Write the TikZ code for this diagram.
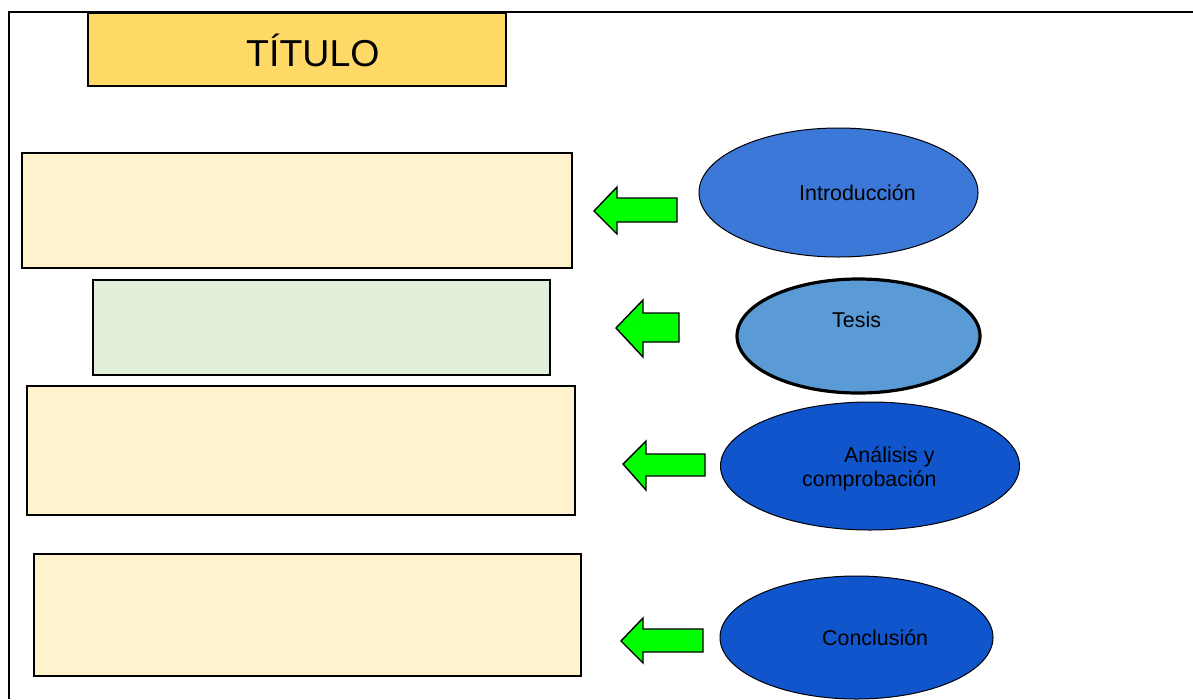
\documentclass[tikz,border=0pt]{standalone}
\usepackage{fontspec}
\setmainfont{Liberation Sans}
\usetikzlibrary{shapes.geometric}
\definecolor{titlefill}{HTML}{FFD966}
\definecolor{cream}{HTML}{FFF2CC}
\definecolor{palegreen}{HTML}{E2EFDA}
\definecolor{blueA}{HTML}{3C78D8}
\definecolor{blueB}{HTML}{5B9BD5}
\definecolor{blueC}{HTML}{1155CC}
\definecolor{arrowgreen}{HTML}{00FF00}
\tikzset{
  box/.style={draw=black, line width=1.6pt, inner sep=0pt, rectangle},
  oval/.style={draw=black, ellipse, inner sep=0pt, line width=1pt},
  lbl/.style={anchor=base west, inner sep=0pt, font=\fontsize{21.4}{25}\selectfont},
  garrow/.style={draw=black, fill=arrowgreen, line width=1.4pt, line join=miter},
}
\begin{document}
\begin{tikzpicture}[x=1pt,y=-1pt]
\useasboundingbox (0,0) rectangle (1193,699);
% frame
\draw[line width=2pt] (1193,12) -- (9,12) -- (9,699);
% title
\node[box, fill=titlefill, line width=1.3pt, minimum width=418pt, minimum height=73pt] (title) at (297,49.5) {};
\node[anchor=base west, inner sep=0pt, font=\fontsize{37.5}{42}\selectfont] (titletext) at (246,66) {TÍTULO};
% rectangles
\node[box, fill=cream, minimum width=550pt, minimum height=115pt] (r1) at (297,210.5) {};
\node[box, fill=palegreen, minimum width=457pt, minimum height=95pt] (r2) at (321.5,327.5) {};
\node[box, fill=cream, minimum width=548pt, minimum height=129pt] (r3) at (301,450.5) {};
\node[box, fill=cream, minimum width=547pt, minimum height=122pt] (r4) at (307.5,615) {};
% arrows
\draw[garrow] (594,211) -- (617,187) -- (617,198) -- (677,198) -- (677,222) -- (617,222) -- (617,234) -- cycle;
\draw[garrow] (616,328) -- (643,300) -- (643,313) -- (679,313) -- (679,342) -- (643,342) -- (643,357) -- cycle;
\draw[garrow] (623,464) -- (646,441) -- (646,454) -- (705,454) -- (705,476) -- (646,476) -- (646,490) -- cycle;
\draw[garrow] (621,641) -- (643,618) -- (643,629) -- (703,629) -- (703,652) -- (643,652) -- (643,663) -- cycle;
% ellipses
\node[oval, fill=blueA, minimum width=279pt, minimum height=129pt] (e1) at (838.5,192.5) {};
\node[oval, fill=blueB, line width=3.2pt, minimum width=243pt, minimum height=114pt] (e2) at (858.5,336) {};
\node[oval, fill=blueC, minimum width=299pt, minimum height=128pt] (e3) at (870,466) {};
\node[oval, fill=blueC, minimum width=273pt, minimum height=123pt] (e4) at (856.5,637.5) {};
% labels
\node[lbl] (t1) at (799,200) {Introducción};
\node[lbl] (t2) at (832,327) {Tesis};
\node[lbl] (t3a) at (844,462) {Análisis y};
\node[lbl] (t3b) at (802,486) {comprobación};
\node[lbl] (t4) at (822,645) {Conclusión};
\end{tikzpicture}
\end{document}
